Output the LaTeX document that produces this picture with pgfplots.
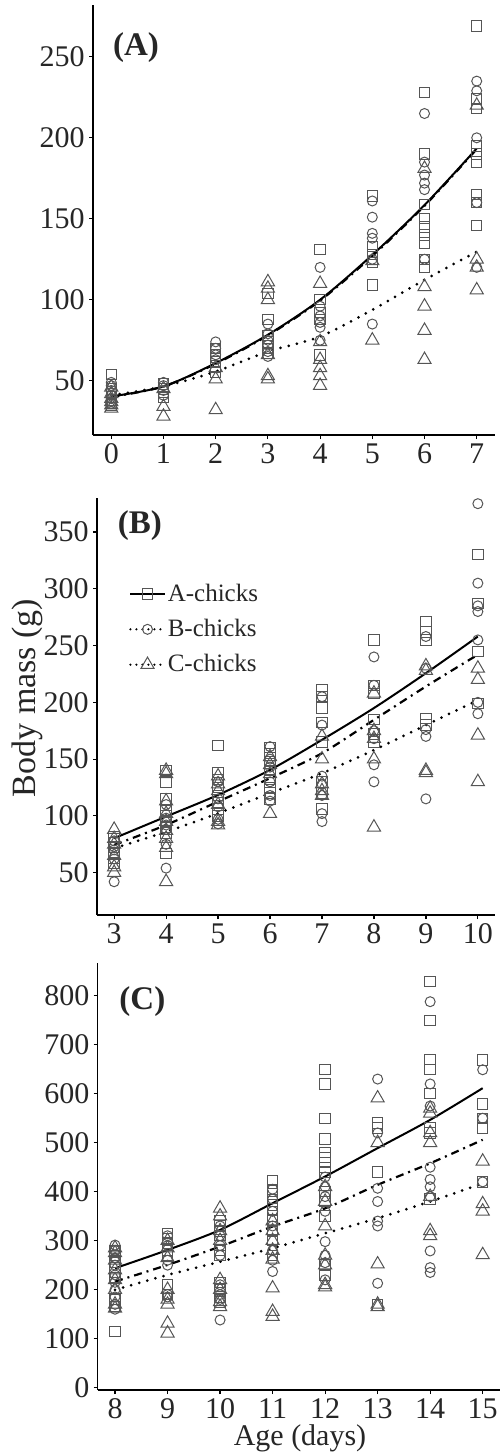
\documentclass[border=0pt]{standalone}
\usepackage{fontspec}
\setmainfont{Liberation Serif}
\usepackage{pgfplots}
\pgfplotsset{compat=1.18}
\definecolor{markgray}{RGB}{85,85,85}

\tikzset{plab/.style={font=\bfseries\fontsize{16.5}{18}\selectfont, text=black!85}}
\pgfplotsset{
  panel/.style={
    scale only axis, anchor=north west,
    axis lines=left, axis line style={-, line width=0.7pt, black},
    tick align=outside, major tick length=2pt,
    tick style={black, line width=0.6pt},
    xtick distance=1, minor tick num=0,
    /pgf/number format/assume math mode=true,
    ticklabel style={font=\fontsize{15}{17}\selectfont, text=black!85},
    xticklabel style={inner sep=1pt, yshift=-1pt},
    yticklabel style={inner sep=1pt, xshift=-1pt},
    clip=false,
  },
  pa/.style={only marks, mark=square, mark size=2.6pt,
    mark options={draw=markgray, line width=0.5pt, fill=none}},
  pb/.style={only marks, mark=o, mark size=2.5pt,
    mark options={draw=markgray, line width=0.5pt, fill=none}},
  pc/.style={only marks, mark=triangle, mark size=3.8pt,
    mark options={draw=markgray, line width=0.5pt, fill=none}},
  la/.style={no marks, smooth, black, line width=1pt, solid},
  lb/.style={no marks, smooth, black, line width=1.1pt,
    dash pattern=on 4pt off 2.5pt on 1pt off 2.5pt},
  lc/.style={no marks, smooth, black, line width=1.5pt, line cap=round,
    dash pattern=on 0pt off 4.2pt},
}

\begin{document}
\begin{tikzpicture}
\useasboundingbox (0,0) rectangle (250.5pt,-727.5pt);

% ---------- (A) ----------
\begin{axis}[panel, at={(46.5pt,-2.5pt)}, width=201pt, height=215pt,
  xmin=-0.35, xmax=7.35, ymin=16.5, ymax=282,
  ytick={50,100,150,200,250}]
\addplot[pa] coordinates {
 (0,54) (0,45) (0,42) (0,40) (0,38) (0,36) (0,35)
 (1,48) (1,45) (1,43) (1,40)
 (2,70) (2,66) (2,62) (2,58) (2,55)
 (3,104) (3,88) (3,78) (3,74) (3,70) (3,67)
 (4,131) (4,100) (4,92) (4,88) (4,66)
 (5,164) (5,133) (5,128) (5,123) (5,109)
 (6,228) (6,190) (6,159) (6,150) (6,145) (6,140) (6,135) (6,125) (6,120)
 (7,269) (7,224) (7,218) (7,195) (7,190) (7,185) (7,165) (7,160) (7,146)};
\addplot[pb] coordinates {
 (0,49) (0,47) (0,44) (0,41) (0,39) (0,37) (0,36)
 (1,49) (1,47) (1,44) (1,41)
 (2,74) (2,70) (2,66) (2,63)
 (3,85) (3,79) (3,75) (3,72) (3,68) (3,65)
 (4,120) (4,96) (4,90) (4,86) (4,83) (4,75)
 (5,161) (5,151) (5,141) (5,138) (5,125) (5,85)
 (6,215) (6,185) (6,177) (6,172) (6,168) (6,125)
 (7,235) (7,229) (7,200) (7,160) (7,120)};
\addplot[pc] coordinates {
 (0,46) (0,42) (0,39) (0,37) (0,35) (0,33)
 (1,45) (1,34) (1,28)
 (2,58) (2,51) (2,32)
 (3,111) (3,107) (3,100) (3,66) (3,53) (3,51)
 (4,110) (4,74) (4,63) (4,58) (4,53) (4,47)
 (5,124) (5,75)
 (6,181) (6,108) (6,96) (6,81) (6,63)
 (7,220) (7,125) (7,120) (7,106)};
\addplot[lb] coordinates {(0,40) (1,46.5) (2,60.5) (3,78) (4,99.5) (5,127) (6,158) (7,193)};
\addplot[la] coordinates {(0,40.3) (1,46.5) (2,60.9) (3,78.4) (4,100) (5,127.7) (6,158.5) (7,193.4)};
\addplot[lc] coordinates {(0,41) (1,46.5) (2,55.7) (3,68) (4,77.3) (5,93.8) (6,112.3) (7,129.7)};
\node[plab] at (rel axis cs:0.107,0.902) {(A)};
\end{axis}

% ---------- (B) ----------
\begin{axis}[panel, at={(48.5pt,-249pt)}, width=199pt, height=208.5pt,
  xmin=2.67, xmax=10.33, ymin=12.7, ymax=380,
  ytick={50,100,150,200,250,300,350},
  legend style={at={(0.08,0.80)}, anchor=north west, draw=none, fill=none,
    font=\fontsize{12.5}{14}\selectfont, text=black!85,
    row sep=5.5pt, inner sep=0pt,
    nodes={inner sep=1pt}},
  legend cell align=left]
\addlegendimage{black, solid, line width=1pt, mark=square, mark size=2.6pt,
  mark options={draw=markgray, solid, line width=0.5pt, fill=white}}
\addlegendentry{A-chicks}
\addlegendimage{black, line width=1.2pt, line cap=round, dash pattern=on 0pt off 3pt, mark=o, mark size=2.5pt,
  mark options={draw=markgray, solid, line width=0.5pt, fill=white}}
\addlegendentry{B-chicks}
\addlegendimage{black, line width=1.2pt, line cap=round, dash pattern=on 0pt off 3pt, mark=triangle, mark size=3.8pt,
  mark options={draw=markgray, solid, line width=0.5pt, fill=white}}
\addlegendentry{C-chicks}
\addplot[pa, forget plot] coordinates {
 (3,82) (3,76) (3,72) (3,68) (3,63) (3,58)
 (4,140) (4,130) (4,115) (4,105) (4,100) (4,95) (4,90) (4,85) (4,67)
 (5,162) (5,138) (5,132) (5,125) (5,118) (5,112) (5,106) (5,100)
 (6,160) (6,155) (6,148) (6,140) (6,132) (6,125) (6,120) (6,115)
 (7,211) (7,205) (7,195) (7,182) (7,165) (7,130) (7,120) (7,106)
 (8,255) (8,215) (8,208) (8,185) (8,172) (8,165)
 (9,271) (9,262) (9,255) (9,186) (9,180)
 (10,330) (10,287) (10,245) (10,199)};
\addplot[pb, forget plot] coordinates {
 (3,78) (3,73) (3,70) (3,62) (3,42)
 (4,110) (4,98) (4,92) (4,88) (4,75) (4,54)
 (5,130) (5,115) (5,108) (5,97) (5,93)
 (6,161) (6,150) (6,143) (6,130) (6,118) (6,113)
 (7,205) (7,180) (7,135) (7,128) (7,118) (7,102) (7,95)
 (8,240) (8,215) (8,175) (8,168) (8,145) (8,130)
 (9,258) (9,230) (9,176) (9,170) (9,115)
 (10,375) (10,305) (10,285) (10,280) (10,255) (10,200) (10,190)};
\addplot[pc, forget plot] coordinates {
 (3,88) (3,80) (3,75) (3,65) (3,55) (3,50)
 (4,140) (4,137) (4,113) (4,102) (4,95) (4,87) (4,80) (4,72) (4,42)
 (5,135) (5,128) (5,122) (5,110) (5,95) (5,92)
 (6,152) (6,145) (6,137) (6,102)
 (7,170) (7,150) (7,128) (7,122) (7,118)
 (8,208) (8,175) (8,168) (8,150) (8,90)
 (9,232) (9,228) (9,140) (9,138)
 (10,230) (10,220) (10,171) (10,130)};
\addplot[lb, forget plot] coordinates {(3,74.4) (4,92) (5,112.6) (6,133.2) (7,155.2) (8,184.6) (9,214) (10,242)};
\addplot[la, forget plot] coordinates {(3,80.3) (4,99.4) (5,118.5) (6,140.5) (7,167) (8,195) (9,225.7) (10,258)};
\addplot[lc, forget plot] coordinates {(3,71.5) (4,86) (5,102.3) (6,120) (7,137.6) (8,158) (9,180) (10,202)};
\node[plab] at (rel axis cs:0.108,0.935) {(B)};
\end{axis}

% ---------- (C) ----------
\begin{axis}[panel, at={(48.85pt,-481.5pt)}, width=201.15pt, height=213.5pt,
  xmin=7.67, xmax=15.33, ymin=-5, ymax=867,
  ytick={0,100,...,800}]
\addplot[pa] coordinates {
 (8,280) (8,270) (8,255) (8,245) (8,235) (8,225) (8,180) (8,165) (8,114)
 (9,315) (9,305) (9,295) (9,280) (9,270) (9,210) (9,190)
 (10,340) (10,330) (10,320) (10,310) (10,280) (10,270) (10,215) (10,200) (10,185) (10,175)
 (11,423) (11,405) (11,395) (11,380) (11,365) (11,350) (11,340) (11,320) (11,300) (11,270)
 (12,650) (12,620) (12,549) (12,508) (12,480) (12,470) (12,460) (12,450) (12,440) (12,400) (12,380) (12,350) (12,250) (12,230)
 (13,540) (13,530) (13,440) (13,169)
 (14,829) (14,749) (14,670) (14,650) (14,600) (14,530) (14,520) (14,385)
 (15,669) (15,579) (15,550) (15,530) (15,420)};
\addplot[pb] coordinates {
 (8,291) (8,280) (8,265) (8,250) (8,230) (8,215) (8,200) (8,185) (8,170) (8,160)
 (9,310) (9,290) (9,260) (9,250) (9,190) (9,185)
 (10,330) (10,310) (10,290) (10,270) (10,210) (10,190) (10,180) (10,138)
 (11,405) (11,385) (11,360) (11,330) (11,280) (11,260) (11,237)
 (12,430) (12,410) (12,390) (12,360) (12,298) (12,270) (12,255) (12,220)
 (13,630) (13,520) (13,407) (13,380) (13,340) (13,330) (13,213)
 (14,788) (14,620) (14,575) (14,450) (14,425) (14,410) (14,390) (14,279) (14,245) (14,235)
 (15,649) (15,550) (15,420)};
\addplot[pc] coordinates {
 (8,285) (8,275) (8,260) (8,240) (8,220) (8,200) (8,170) (8,162)
 (9,300) (9,285) (9,265) (9,200) (9,180) (9,170) (9,131) (9,111)
 (10,366) (10,350) (10,320) (10,300) (10,220) (10,200) (10,175) (10,165)
 (11,340) (11,320) (11,300) (11,280) (11,262) (11,203) (11,155) (11,145)
 (12,410) (12,380) (12,330) (12,270) (12,250) (12,210) (12,205)
 (13,591) (13,500) (13,252) (13,170) (13,165)
 (14,570) (14,560) (14,520) (14,500) (14,390) (14,320) (14,310)
 (15,462) (15,375) (15,360) (15,271)};
\addplot[lb] coordinates {(8,216.5) (9,250.5) (10,288) (11,329) (12,366) (13,414) (14,458) (15,506)};
\addplot[la] coordinates {(8,243.7) (9,281) (10,322) (11,376.5) (12,431) (13,489) (14,546.7) (15,611.4)};
\addplot[lc] coordinates {(8,199.5) (9,230) (10,257) (11,284.6) (12,315) (13,346) (14,380) (15,417)};
\node[plab] at (rel axis cs:0.111,0.909) {(C)};
\end{axis}

\node[rotate=90, font=\fontsize{17}{19}\selectfont, text=black!85] at (13.5pt,-349pt) {Body mass (g)};
\node[font=\fontsize{15}{17}\selectfont, text=black!85] at (150pt,-719pt) {Age (days)};
\end{tikzpicture}
\end{document}
